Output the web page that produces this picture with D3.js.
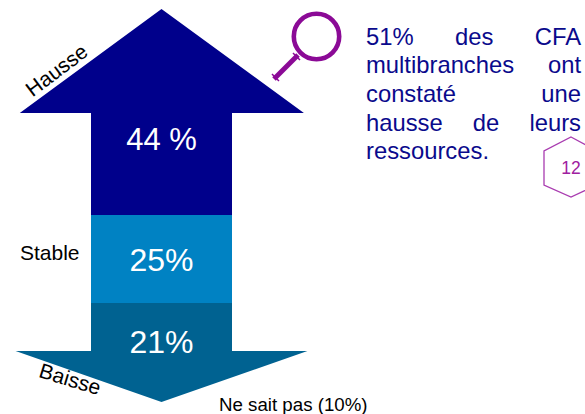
<!DOCTYPE html>
<html lang="fr">
<head>
<meta charset="utf-8">
<script src="https://cdn.jsdelivr.net/npm/d3@7"></script>
<style>
html,body{margin:0;padding:0;background:#fff;overflow:hidden}
svg{display:block}
text{font-family:"Liberation Sans",Arial,sans-serif}
</style>
</head>
<body>
<script>
// Data
const categories = ["Baisse", "Stable", "Hausse"];
const values = [21, 25, 44];
const valueLabels = ["21%", "25%", "44 %"];
const colors = ["#006291", "#0082c3", "#00008b"];
const otherLabel = "Ne sait pas (10%)";
const commentLines = [
  ["51%", "des", "CFA"],
  ["multibranches", "ont"],
  ["constaté", "une"],
  ["hausse", "de", "leurs"],
  ["ressources."]
];
const pageNumber = "12";

const W = 585, H = 414;
const svg = d3.select("body").append("svg").attr("width", W).attr("height", H);

// Cumulative share -> vertical position (the source arrow is a schematic, not strictly proportional)
const cum = [0];
values.forEach(v => cum.push(cum[cum.length - 1] + v));
const y = d3.scaleLinear().domain(cum).range([402, 303, 215, 9]);
// Arrow-width units -> horizontal position, centred on the shaft
const x = d3.scaleLinear().domain([-1, 1]).range([91, 232]);
const cx = x(0);
const line = d3.line();

// Hausse (up arrow)
const upWing = 113;
svg.append("path")
  .attr("d", line([[cx, y(90)], [x(-2.01), upWing], [x(-1), upWing], [x(-1), y(46)], [x(1), y(46)], [x(1), upWing], [x(2.02), upWing]]) + "Z")
  .attr("fill", colors[2]);
// Stable
svg.append("rect").attr("x", x(-1)).attr("y", y(46)).attr("width", x(1) - x(-1)).attr("height", y(21) - y(46)).attr("fill", colors[1]);
// Baisse (down arrow)
const downWing = 351;
svg.append("path")
  .attr("d", line([[x(-1), y(21)], [x(1), y(21)], [x(1), downWing], [x(2.07), downWing], [cx, y(0)], [x(-2.07), downWing], [x(-1), downWing]]) + "Z")
  .attr("fill", colors[0]);

// Value labels
const labelY = [353, 271, 150];
const labelSize = [32, 32, 31];
svg.selectAll("text.val").data(valueLabels).join("text").attr("class", "val")
  .attr("x", cx).attr("y", (d, i) => labelY[i]).attr("text-anchor", "middle")
  .attr("fill", "#fff").attr("font-size", (d, i) => labelSize[i]).text(d => d);

// Category labels
const catPos = [
  {x: 68, y: 386, r: 17, size: 21, a: "middle"},
  {x: 20, y: 260, r: 0, size: 21, a: "start"},
  {x: 61, y: 76, r: -37, size: 21, a: "middle"}
];
svg.selectAll("text.cat").data(categories).join("text").attr("class", "cat")
  .attr("text-anchor", (d, i) => catPos[i].a)
  .attr("font-size", (d, i) => catPos[i].size)
  .attr("fill", "#000")
  .attr("transform", (d, i) => `translate(${catPos[i].x},${catPos[i].y}) rotate(${catPos[i].r})`)
  .text(d => d);
svg.append("text").attr("x", 219).attr("y", 411).attr("font-size", 18.7).attr("fill", "#000").text(otherLabel);

// Magnifier
const purple = "#8b0a96";
const mag = svg.append("g").attr("fill", "none").attr("stroke", purple);
mag.append("circle").attr("cx", 316.5).attr("cy", 36.5).attr("r", 22.7).attr("stroke-width", 4.6);
mag.append("path").attr("d", line([[298, 55], [274, 79]])).attr("stroke-width", 5);
mag.append("path").attr("d", line([[293, 53], [300, 60]])).attr("stroke-width", 1.5);
mag.append("path").attr("d", line([[272, 74], [279, 81]])).attr("stroke-width", 1.5);

// Justified comment
const left = 366, right = 581, first = 44.5, lead = 28.7;
commentLines.forEach((words, li) => {
  const nodes = words.map(w => svg.append("text").attr("y", first + li * lead)
    .attr("font-size", 23.8).attr("fill", "#0a0a8c").text(w));
  const widths = nodes.map(n => n.node().getComputedTextLength());
  const gap = words.length > 1 ? (right - left - d3.sum(widths)) / (words.length - 1) : 0;
  let px = left;
  nodes.forEach((n, i) => { n.attr("x", px); px += widths[i] + gap; });
});

// Page-number hexagon
const hex = [[571, 137], [597, 151], [597, 185], [571, 197], [544, 185], [544, 151]];
svg.append("path").attr("d", line(hex) + "Z").attr("fill", "#fff").attr("stroke", "#a93cb0").attr("stroke-width", 1.3);
svg.append("text").attr("x", 571).attr("y", 173.5).attr("text-anchor", "middle")
  .attr("font-size", 17.5).attr("fill", "#a0209f").text(pageNumber);
</script>
</body>
</html>
